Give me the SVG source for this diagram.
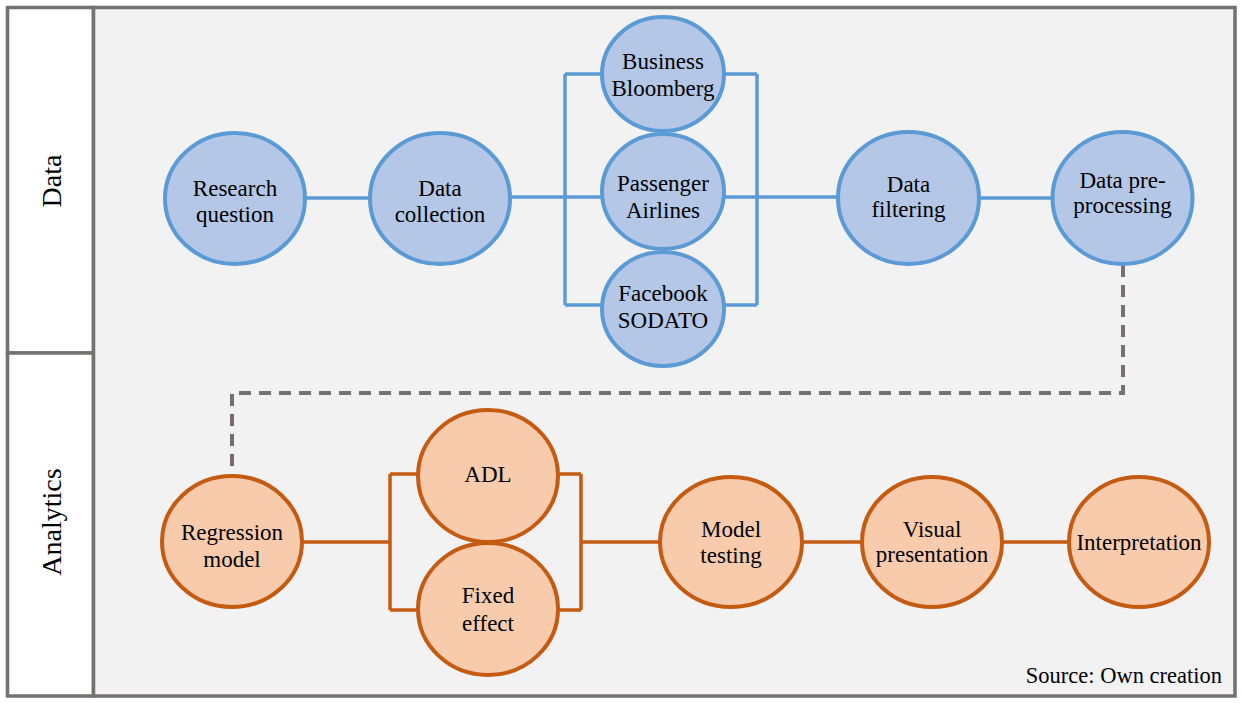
<svg xmlns="http://www.w3.org/2000/svg" width="1241" height="703" viewBox="0 0 1241 703">
<style>
.frame{fill:#ffffff;stroke:#767171;stroke-width:3.5}
.panel{fill:#f2f2f2;stroke:#767171;stroke-width:3.5}
.lane{font-family:"Liberation Serif","Times New Roman",serif;font-size:28px;fill:#000;text-anchor:middle}
.nb{fill:#b4c7e7;stroke:#5b9bd5;stroke-width:4}
.no{fill:#f8cbad;stroke:#c55a11;stroke-width:4}
.lbl{font-family:"Liberation Serif","Times New Roman",serif;font-size:23px;fill:#000;text-anchor:middle}
.cb{fill:none;stroke:#5b9bd5;stroke-width:3.5}
.co{fill:none;stroke:#c55a11;stroke-width:3.5}
.cd{fill:none;stroke:#767171;stroke-width:4;stroke-dasharray:12 8}
</style>
<rect width="1241" height="703" fill="#ffffff"/>
<g id="lanes">
<rect class="frame" x="7.5" y="7.5" width="86" height="345.5"/>
<rect class="frame" x="7.5" y="353" width="86" height="343"/>
<rect class="panel" x="93.5" y="7.5" width="1141.5" height="688.5"/>
<text class="lane" transform="translate(61,181) rotate(-90)">Data</text>
<text class="lane" transform="translate(61,522) rotate(-90)">Analytics</text>
</g>
<g id="connectors">
<path class="cb" d="M305,198H370"/>
<path class="cb" d="M510,197H602M565,74V305M565,74H602M565,305H602"/>
<path class="cb" d="M725,197H838M757,74V305M725,74H757M725,305H757"/>
<path class="cb" d="M979,198H1052"/>
<path class="cd" d="M1123,265V393H232V476"/>
<path class="co" d="M302,542H390M390,474V610M390,474H418M390,610H418"/>
<path class="co" d="M558,474H581M558,610H581M581,474V610M581,542H660"/>
<path class="co" d="M802,542H862"/>
<path class="co" d="M1002,542H1069"/>
</g>
<g id="research-question"><ellipse class="nb" cx="235" cy="198.5" rx="70" ry="65.5"/><text class="lbl" x="235" y="196">Research</text><text class="lbl" x="235" y="222">question</text></g>
<g id="data-collection"><ellipse class="nb" cx="440" cy="198.5" rx="70" ry="65.5"/><text class="lbl" x="440" y="196">Data</text><text class="lbl" x="440" y="222">collection</text></g>
<g id="business-bloomberg"><ellipse class="nb" cx="663" cy="74" rx="61" ry="57"/><text class="lbl" x="663" y="69">Business</text><text class="lbl" x="663" y="96">Bloomberg</text></g>
<g id="passenger-airlines"><ellipse class="nb" cx="663" cy="191.5" rx="61" ry="57.5"/><text class="lbl" x="663" y="191">Passenger</text><text class="lbl" x="663" y="218">Airlines</text></g>
<g id="facebook-sodato"><ellipse class="nb" cx="663" cy="309" rx="61" ry="57"/><text class="lbl" x="663" y="301">Facebook</text><text class="lbl" x="663" y="328">SODATO</text></g>
<g id="data-filtering"><ellipse class="nb" cx="908.5" cy="198" rx="70.5" ry="66"/><text class="lbl" x="908.5" y="192">Data</text><text class="lbl" x="908.5" y="217">filtering</text></g>
<g id="data-preprocessing"><ellipse class="nb" cx="1122.5" cy="198" rx="70" ry="66"/><text class="lbl" x="1122.5" y="188">Data pre-</text><text class="lbl" x="1122.5" y="213">processing</text></g>
<g id="regression-model"><ellipse class="no" cx="232" cy="541.5" rx="70" ry="65.5"/><text class="lbl" x="232" y="540">Regression</text><text class="lbl" x="232" y="567">model</text></g>
<g id="adl"><ellipse class="no" cx="488" cy="476" rx="70" ry="66"/><text class="lbl" x="488" y="482">ADL</text></g>
<g id="fixed-effect"><ellipse class="no" cx="488" cy="609" rx="70" ry="66"/><text class="lbl" x="488" y="603">Fixed</text><text class="lbl" x="488" y="631">effect</text></g>
<g id="model-testing"><ellipse class="no" cx="731" cy="542" rx="71" ry="65"/><text class="lbl" x="731" y="537">Model</text><text class="lbl" x="731" y="563">testing</text></g>
<g id="visual-presentation"><ellipse class="no" cx="932" cy="542" rx="70" ry="65"/><text class="lbl" x="932" y="537">Visual</text><text class="lbl" x="932" y="562">presentation</text></g>
<g id="interpretation"><ellipse class="no" cx="1139" cy="542" rx="70" ry="65"/><text class="lbl" x="1139" y="550">Interpretation</text></g>
<text class="lbl" x="1222" y="683" style="text-anchor:end;font-size:22.5px">Source: Own creation</text>
</svg>
